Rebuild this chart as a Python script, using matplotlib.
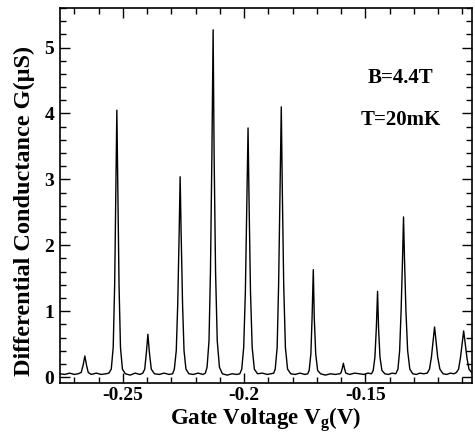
import matplotlib
matplotlib.use("Agg")
import matplotlib.pyplot as plt
from matplotlib.ticker import MultipleLocator

# Trace: gate voltage (V) and differential conductance (uS)
gate_voltage = [
    -0.2760, -0.2740, -0.2720, -0.2700, -0.2685,
    -0.2672, -0.2664, -0.2657, -0.2650, -0.2643,
    -0.2630, -0.2610, -0.2590, -0.2570, -0.2558,
    -0.2548, -0.2540, -0.2534, -0.2529, -0.2525, -0.2521, -0.2516, -0.2510, -0.2502,
    -0.2490, -0.2470, -0.2450, -0.2430, -0.2418,
    -0.2410, -0.2403, -0.2397, -0.2391, -0.2383,
    -0.2370, -0.2350, -0.2330, -0.2310, -0.2295,
    -0.2288, -0.2280, -0.2274, -0.2268, -0.2264, -0.2260, -0.2254, -0.2248, -0.2240,
    -0.2228, -0.2210, -0.2190, -0.2170, -0.2160,
    -0.2153, -0.2145, -0.2139, -0.2133, -0.2128, -0.2124, -0.2118, -0.2111, -0.2102,
    -0.2090, -0.2070, -0.2050, -0.2030, -0.2018,
    -0.2010, -0.2002, -0.1995, -0.1989, -0.1984, -0.1980, -0.1974, -0.1967, -0.1958,
    -0.1945, -0.1925, -0.1905, -0.1890, -0.1878,
    -0.1872, -0.1864, -0.1858, -0.1852, -0.1847, -0.1843, -0.1837, -0.1830, -0.1821,
    -0.1808, -0.1790, -0.1770, -0.1750, -0.1738,
    -0.1732, -0.1725, -0.1720, -0.1715, -0.1711, -0.1705, -0.1697,
    -0.1685, -0.1665, -0.1645, -0.1625, -0.1605,
    -0.1600, -0.1595, -0.1591, -0.1587, -0.1581,
    -0.1565, -0.1545, -0.1525, -0.1505, -0.1490, -0.1475,
    -0.1468, -0.1461, -0.1455, -0.1450, -0.1446, -0.1440, -0.1432,
    -0.1420, -0.1405, -0.1390, -0.1375,
    -0.1366, -0.1359, -0.1353, -0.1347, -0.1343, -0.1339, -0.1333, -0.1326, -0.1317,
    -0.1305, -0.1290, -0.1275, -0.1260, -0.1245,
    -0.1236, -0.1228, -0.1221, -0.1215, -0.1209, -0.1202, -0.1193,
    -0.1180, -0.1165, -0.1150, -0.1135, -0.1125,
    -0.1116, -0.1108, -0.1101, -0.1095, -0.1089, -0.1081, -0.1073, -0.1060,
]
conductance = [
    0.05, 0.04, 0.06, 0.04, 0.05,
    0.07, 0.18, 0.32, 0.18, 0.07,
    0.04, 0.06, 0.04, 0.05, 0.06,
    0.12, 0.45, 1.40, 2.90, 4.05, 2.90, 1.40, 0.45, 0.12,
    0.05, 0.03, 0.06, 0.04, 0.06,
    0.12, 0.38, 0.65, 0.38, 0.12,
    0.05, 0.04, 0.06, 0.04, 0.05,
    0.12, 0.40, 1.10, 2.20, 3.04, 2.20, 1.10, 0.40, 0.12,
    0.05, 0.04, 0.06, 0.04, 0.06,
    0.15, 0.55, 1.60, 3.40, 5.27, 3.40, 1.60, 0.55, 0.15,
    0.05, 0.03, 0.05, 0.04, 0.05,
    0.12, 0.45, 1.30, 2.70, 3.78, 2.70, 1.30, 0.45, 0.12,
    0.05, 0.06, 0.04, 0.05, 0.06,
    0.12, 0.45, 1.40, 2.90, 4.10, 2.90, 1.40, 0.45, 0.12,
    0.05, 0.04, 0.06, 0.04, 0.05,
    0.10, 0.35, 0.90, 1.63, 0.90, 0.35, 0.10,
    0.05, 0.03, 0.05, 0.04, 0.05,
    0.07, 0.14, 0.21, 0.14, 0.06,
    0.04, 0.06, 0.05, 0.04, 0.06, 0.05,
    0.10, 0.30, 0.75, 1.30, 0.75, 0.30, 0.10,
    0.05, 0.04, 0.06, 0.05,
    0.12, 0.40, 1.00, 1.80, 2.43, 1.80, 1.00, 0.40, 0.12,
    0.05, 0.04, 0.06, 0.05, 0.06,
    0.12, 0.30, 0.55, 0.76, 0.55, 0.30, 0.12,
    0.05, 0.04, 0.06, 0.05, 0.07,
    0.12, 0.30, 0.52, 0.70, 0.52, 0.28, 0.12, 0.06,
]
annotations = ["B=4.4T", "T=20mK"]

plt.rcParams["font.family"] = ["Liberation Serif", "DejaVu Serif"]
plt.rcParams["font.weight"] = "bold"
plt.rcParams["mathtext.fontset"] = "custom"
plt.rcParams["mathtext.rm"] = "Liberation Serif:bold"
plt.rcParams["mathtext.it"] = "Liberation Serif:bold"
plt.rcParams["mathtext.bf"] = "Liberation Serif:bold"


def main():
    fig = plt.figure(figsize=(4.75, 4.34), dpi=100)
    ax = fig.add_axes([0.126, 0.1175, 0.868, 0.864])

    ax.plot(gate_voltage, conductance, color="black", lw=1.0)

    ax.set_xlim(-0.276, -0.106)
    ax.set_ylim(-0.09, 5.6)
    ax.xaxis.set_major_locator(MultipleLocator(0.05))
    ax.xaxis.set_minor_locator(MultipleLocator(0.01))
    ax.yaxis.set_major_locator(MultipleLocator(1))
    ax.yaxis.set_minor_locator(MultipleLocator(0.2))
    ax.xaxis.set_major_formatter(lambda v, p: f"{v:g}")
    ax.tick_params(which="both", direction="in", top=True, right=True,
                   labelsize=14, width=1)
    ax.tick_params(which="major", length=7)
    ax.tick_params(which="minor", length=4)
    ax.tick_params(axis="x", pad=3)
    ax.tick_params(axis="y", pad=4)
    for s in ax.spines.values():
        s.set_linewidth(1.2)

    ax.set_xlabel(r"Gate Voltage $\mathrm{V_g}$(V)", fontsize=16.5, fontweight="bold")
    ax.set_ylabel("Differential Conductance G(μS)", fontsize=17.5, fontweight="bold")
    ax.yaxis.set_label_coords(-0.06, 0.46)
    ax.xaxis.set_label_coords(0.5, -0.060)

    ax.text(-0.1355, 4.54, annotations[0], fontsize=15, fontweight="bold",
            ha="center", va="center")
    ax.text(-0.1355, 3.90, annotations[1], fontsize=15, fontweight="bold",
            ha="center", va="center")

    fig.savefig("out.png", dpi=100)


if __name__ == "__main__":
    main()
